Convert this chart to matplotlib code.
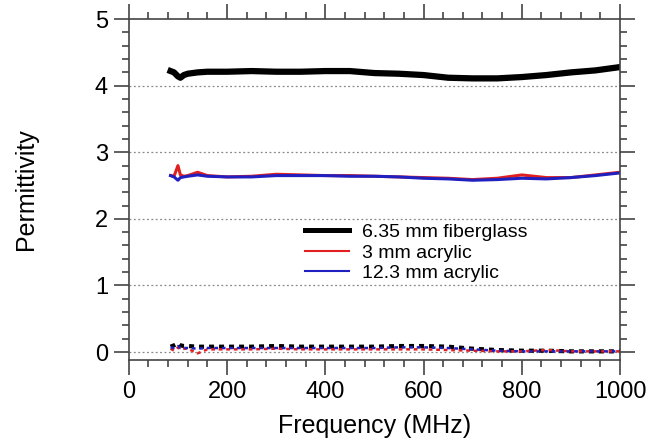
import matplotlib
matplotlib.use("Agg")
from matplotlib import pyplot as plt
from matplotlib.lines import Line2D
from matplotlib.ticker import MultipleLocator

plt.rcParams['font.family'] = ['Liberation Sans', 'DejaVu Sans']

# real part of permittivity vs frequency (MHz)
freq = [85, 92, 100, 105, 112, 120, 140, 160, 200, 250, 300, 350, 400, 450,
        500, 550, 600, 650, 700, 750, 800, 850, 900, 950, 1000]
fiberglass = [4.22, 4.20, 4.14, 4.12, 4.16, 4.18, 4.20, 4.21, 4.21, 4.22, 4.21, 4.21, 4.22, 4.22,
              4.19, 4.18, 4.16, 4.12, 4.11, 4.11, 4.13, 4.16, 4.20, 4.23, 4.28]
acrylic_3 = [2.65, 2.64, 2.80, 2.66, 2.64, 2.65, 2.70, 2.65, 2.63, 2.64, 2.67, 2.66, 2.65, 2.65,
             2.64, 2.63, 2.62, 2.61, 2.59, 2.61, 2.66, 2.62, 2.62, 2.66, 2.70]
acrylic_12 = [2.65, 2.63, 2.58, 2.62, 2.63, 2.64, 2.66, 2.64, 2.63, 2.63, 2.65, 2.65, 2.65, 2.64,
              2.64, 2.63, 2.61, 2.60, 2.58, 2.59, 2.61, 2.60, 2.62, 2.65, 2.69]

# imaginary part (loss), drawn dashed near zero
loss_fiber = [0.08, 0.10, 0.13, 0.10, 0.09, 0.09, 0.08, 0.08, 0.08, 0.08, 0.09, 0.08, 0.08, 0.08,
              0.08, 0.09, 0.09, 0.08, 0.05, 0.03, 0.02, 0.02, 0.01, 0.01, 0.01]
loss_3 = [0.05, 0.02, 0.07, 0.04, 0.05, 0.05, -0.02, 0.04, 0.04, 0.04, 0.05, 0.04, 0.04, 0.04,
          0.04, 0.04, 0.04, 0.03, 0.02, 0.01, 0.01, 0.03, 0.01, 0.01, 0.01]
loss_12 = [0.07, 0.06, 0.09, 0.06, 0.06, 0.06, 0.05, 0.06, 0.06, 0.06, 0.06, 0.06, 0.06, 0.06,
           0.06, 0.07, 0.07, 0.06, 0.04, 0.02, 0.01, 0.01, 0.01, 0.01, 0.01]

labels = ['6.35 mm fiberglass', '3 mm acrylic', '12.3 mm acrylic']
RED = '#e02020'
BLUE = '#2020c0'

fig = plt.figure(figsize=(6.71, 4.45), dpi=100)
ax = fig.add_axes([0.192, 0.191, 0.732, 0.766])

for yv in [0, 1, 2, 3, 4]:
    ax.axhline(yv, color='#888888', lw=0.9, ls=(0, (1.5, 2)), zorder=0)

ax.plot(freq, fiberglass, color='black', lw=4.5)
ax.plot(freq, acrylic_3, color=RED, lw=2.2)
ax.plot(freq, acrylic_12, color=BLUE, lw=2.2)

ax.plot(freq, loss_fiber, color='black', lw=3, ls=(0, (1.2, 1.2)))
ax.plot(freq, loss_3, color=RED, lw=1.8, ls=(0, (1.5, 1.5)))
ax.plot(freq, loss_12, color=BLUE, lw=1.8, ls=(0, (1.5, 1.5)))

ax.set_xlim(0, 1000)
ax.set_ylim(-0.12, 5)
ax.xaxis.set_major_locator(MultipleLocator(200))
ax.xaxis.set_minor_locator(MultipleLocator(40))
ax.yaxis.set_major_locator(MultipleLocator(1))
ax.yaxis.set_minor_locator(MultipleLocator(0.2))
ax.tick_params(which='both', direction='out', top=True, right=True, color='#444444', width=1.2)
ax.tick_params(which='major', length=11, labelsize=17, pad=4)
ax.tick_params(which='minor', length=5)
for s in ax.spines.values():
    s.set_color('#444444')
    s.set_linewidth(1.2)

ax.set_xlabel('Frequency (MHz)', fontsize=18, labelpad=8)
ax.set_ylabel('Permittivity', fontsize=18, labelpad=41)

handles = [Line2D([], [], color='black', lw=3.6),
           Line2D([], [], color=RED, lw=1.5),
           Line2D([], [], color=BLUE, lw=1.5)]
ax.legend(handles, labels, loc='upper left', bbox_to_anchor=(0.358, 0.40), frameon=False,
          fontsize=14, handlelength=2.3, handletextpad=0.65, labelspacing=0.14,
          borderpad=0, borderaxespad=0)

plt.savefig("out.png", dpi=100)
